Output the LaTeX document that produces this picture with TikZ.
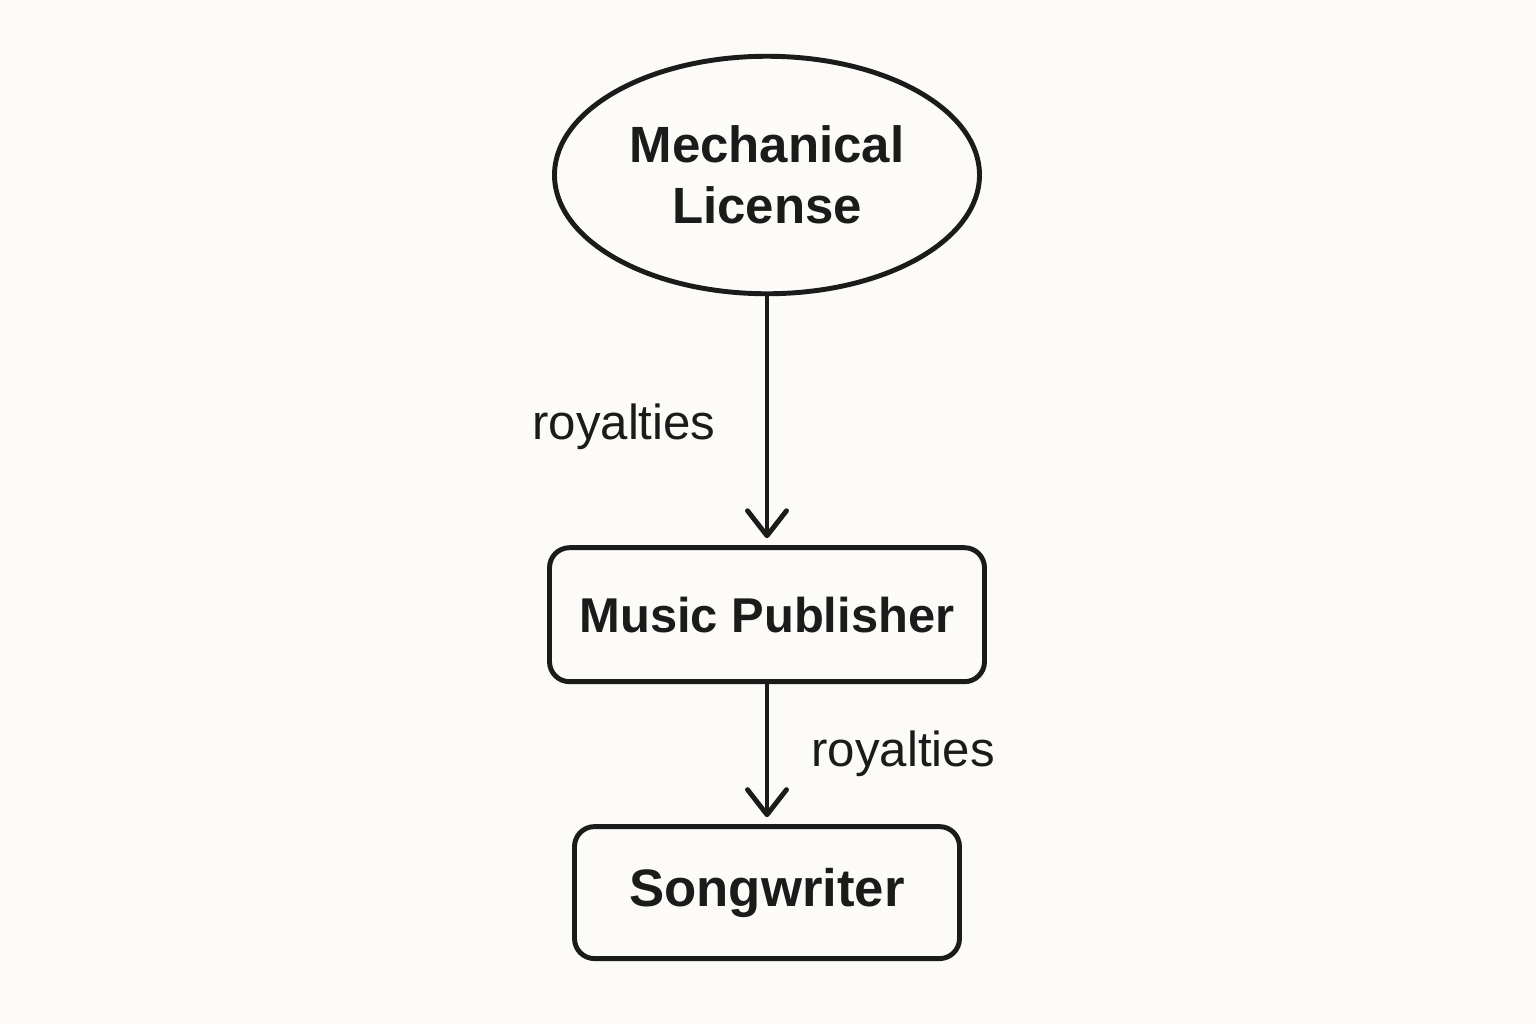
\documentclass[tikz,border=0pt]{standalone}
\usepackage{fontspec}
\setmainfont{Liberation Sans}
\usepackage{tikz}
\usetikzlibrary{%
  arrows.meta,%
  shapes.geometric,% ellipse
  positioning% " of "
}
\definecolor{ink}{HTML}{1B1B1B}
\definecolor{paper}{HTML}{FCFBF7}

\begin{document}
\begin{tikzpicture}
    [   >={Straight Barb[length=5mm,width=7.8mm,line width=2.8pt,round]}
    ,   line width=2.8pt
    ,   ink
    ,   text=ink
    ,   license/.style=
            {   % The shape:
                ellipse
            ,   minimum width=8.5cm
            ,   minimum height=4.75cm
            ,   inner sep=0pt
            ,   draw=ink
            ,   align=center
            ,   font=\fontsize{29}{34.5}\selectfont\bfseries
            }
    ,   party/.style=
            {   % The shape:
                rectangle
            ,   rounded corners=4mm
            ,   draw=ink
            ,   font=\fontsize{28.5}{34.5}\selectfont\bfseries
            }
    ,   flow/.style={font=\fontsize{28}{34}\selectfont, inner sep=0pt}
    ]

    \fill[paper] (0,0) rectangle (30.72,-20.48);
    \useasboundingbox (0,0) rectangle (30.72,-20.48);

    \node[license](ML) at (15.34,-3.5) {Mechanical\\License};
    \node[party, minimum width=8.7cm, minimum height=2.68cm, below=4.98cm of ML](MP) {\fontsize{27.8}{34}\selectfont Music Publisher};
    \node[party, minimum width=7.7cm, minimum height=2.64cm, below=2.8cm of MP](SW) {\fontsize{30}{34}\selectfont Songwriter};

    \draw[->,shorten >=4pt](ML)--(MP) node[midway,left=0.98cm,yshift=-0.12cm,flow]{royalties};
    \draw[->,shorten >=4pt](MP)--(SW) node[midway,right=0.84cm,flow]{royalties};
\end{tikzpicture}
\end{document}
